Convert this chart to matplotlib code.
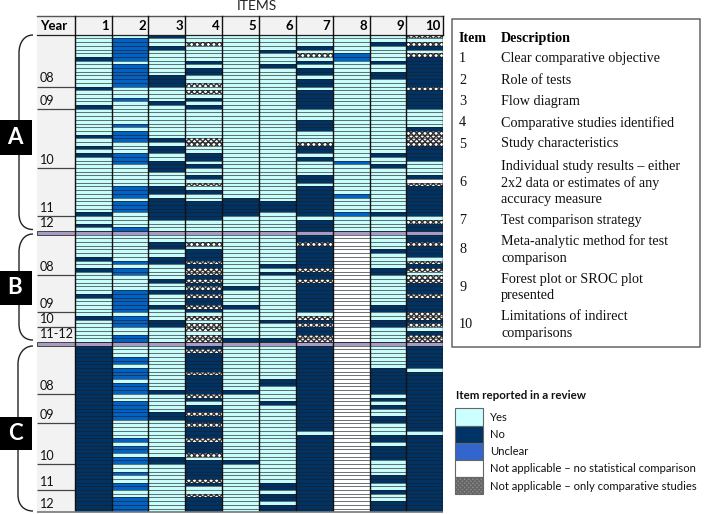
import matplotlib
matplotlib.use('Agg')
import matplotlib.pyplot as plt
from matplotlib.path import Path
from matplotlib.patches import PathPatch, Rectangle

W, H = 708, 514
plt.rcParams['font.family'] = ['Lato', 'DejaVu Sans']
plt.rcParams['hatch.linewidth'] = 1.0

items = ['1', '2', '3', '4', '5', '6', '7', '8', '9', '10']
descriptions = [
    ['Clear comparative objective'],
    ['Role of tests'],
    ['Flow diagram'],
    ['Comparative studies identified'],
    ['Study characteristics'],
    ['Individual study results \u2013 either', '2x2 data or estimates of any', 'accuracy measure'],
    ['Test comparison strategy'],
    ['Meta-analytic method for test', 'comparison'],
    ['Forest plot or SROC plot', 'presented'],
    ['Limitations of indirect', 'comparisons'],
]
legend_labels = ['Yes', 'No', 'Unclear', 'Not applicable \u2013 no statistical comparison',
                 'Not applicable \u2013 only comparative studies']

# rows per review group and where each year ends inside the group
section_names = ['A', 'B', 'C']
section_rows = [53, 29, 45]
year_labels = [['08', '09', '10', '11', '12'], ['08', '09', '10', '11-12'], ['08', '09', '10', '11', '12']]
year_ends = [[14, 20, 36, 49, 53], [11, 21, 25, 29], [13, 21, 32, 39, 45]]

# A: rows marked per item, everything else is "Yes"
a_base = ['Y', 'Y', 'Y', 'Y', 'Y', 'Y', 'Y', 'Y', 'Y', 'Y']
a_no = [
    [6, 14, 19, 27, 30, 32, 48, 51],
    [],
    [0, 3, 11, 12, 13, 18, 28, 30, 31, 34, 35, 36, 41, 42, 44, 45, 46, 47, 48, 49],
    [7, 9, 10, 17, 19, 32, 33, 35, 38, 42, 45, 46, 47, 48, 49],
    [44, 45, 46, 47, 48],
    [4, 8, 45, 46, 47],
    [3, 7, 9, 10, 12, 13, 15, 16, 17, 18, 19, 23, 24, 25, 30, 31, 33, 38, 39, 41, 42, 43, 44, 45, 46, 47, 48, 50, 51, 52],
    [],
    [2, 7, 10, 11, 32, 35, 48],
    [3, 6, 7, 8, 9, 10, 11, 12, 13, 15, 16, 17, 18, 19, 25, 30, 31, 32, 33, 38, 41, 42, 43, 44, 45, 46, 47, 48, 51, 52],
]
a_unclear = [
    [],
    [1, 2, 3, 4, 5, 6, 8, 9, 10, 11, 12, 13, 17, 24, 26, 27, 28, 32, 33, 34, 41, 42, 43, 45, 46, 47, 52],
    [], [], [], [], [],
    [5, 6, 34, 43, 48],
    [], [],
]
a_only = [[], [], [], [2, 13, 15, 28, 29, 40], [], [], [5, 29], [], [], [0, 2, 5, 14, 26, 27, 28, 29, 40, 50]]
a_yes = [[], [], [], [], [], [], [], [], [], []]
a_white = [[], [], [], [], [], [], [], [], [], [39]]

# B
b_base = ['Y', 'Y', 'Y', 'Y', 'Y', 'Y', 'Y', 'W', 'Y', 'Y']
b_no = [
    [6, 9, 16, 22],
    [],
    [2, 3, 6, 7, 12, 15, 19, 23, 24],
    [4, 5, 6, 8, 11, 13, 15, 17, 18, 20],
    [14, 19, 28],
    [8, 10, 23, 28],
    [0, 1, 3, 4, 5, 6, 7, 8, 10, 11, 13, 14, 15, 16, 17, 18, 19, 20, 23, 25, 26],
    [],
    [4, 9, 10, 19, 20, 23, 24],
    [0, 1, 3, 4, 5, 8, 13, 14, 15, 17, 18, 19, 20, 23, 26],
]
b_unclear = [[], [7, 9, 10, 15, 16, 17, 18, 19, 20, 22, 23, 24, 27, 28], [], [], [], [], [], [], [], []]
b_only = [
    [], [], [],
    [2, 7, 9, 10, 12, 14, 16, 19, 22, 24, 25, 27, 28],
    [], [],
    [2, 9, 12, 22, 24, 27, 28],
    [], [],
    [2, 7, 9, 11, 12, 16, 21, 22, 24, 27, 28],
]
b_yes = [[], [], [], [], [], [], [], [], [], []]
b_white = [[], [], [], [], [], [], [], [], [], []]

# C
c_base = ['N', 'Y', 'Y', 'Y', 'Y', 'Y', 'N', 'W', 'Y', 'N']
c_no = [
    [],
    [],
    [12, 18, 19, 30, 31],
    [0, 2, 3, 4, 5, 6, 8, 9, 10, 11, 12, 14, 16, 17, 19, 20, 22, 23, 24, 26, 27, 28, 31, 32, 33, 34, 35, 37, 41, 42, 43, 44],
    [12, 31],
    [9, 10, 15, 37, 38, 40, 41, 43, 44],
    [],
    [],
    [6, 7, 8, 9, 10, 11, 12, 14, 16, 19, 20, 24, 25, 27, 28, 29, 30, 35, 36, 39, 42, 43, 44],
    [],
]
c_unclear = [
    [],
    [3, 4, 6, 7, 8, 10, 11, 12, 15, 16, 17, 18, 19, 25, 27, 28, 30, 31, 34, 37, 38, 41, 42, 43, 44],
    [], [], [], [], [], [], [], [],
]
c_only = [[], [], [], [1, 7, 13, 18, 21, 25, 29, 36, 40], [], [], [], [], [], []]
c_yes = [[], [], [], [], [], [], [23], [], [], [6, 23]]
c_white = [[], [], [], [], [], [], [], [], [], []]

sections = [
    (a_base, a_no, a_unclear, a_only, a_yes, a_white),
    (b_base, b_no, b_unclear, b_only, b_yes, b_white),
    (c_base, c_no, c_unclear, c_only, c_yes, c_white),
]

colors = {'Y': '#c9fdfb', 'N': '#003264', 'U': '#0062c4', 'W': '#ffffff', 'X': '#ffffff'}
line_col = '#1a1f24'

fig = plt.figure(figsize=(W / 100, H / 100), dpi=100)

# grid axes, year column sits at negative x
left, right, top, bottom = 37.0, 443.3, 34.7, 512.3
ax = fig.add_axes([left / W, 1 - bottom / H, (right - left) / W, (bottom - top) / H])
col_w = (right - 74.7) / 10
ax.set_xlim(-(74.7 - left) / col_w, 10)
ax.set_ylim(129, 0)
ax.axis('off')
year_left = ax.get_xlim()[0]

# pixel overlay for furniture
ov = fig.add_axes([0, 0, 1, 1], zorder=5)
ov.set_xlim(0, W)
ov.set_ylim(H, 0)
ov.axis('off')

ax.barh(64.5, -year_left, left=year_left, height=129, color='#f2f2f2', linewidth=0)

offset = 0
for s, (base, no, unclear, only, yes, white) in enumerate(sections):
    n = section_rows[s]
    for c in range(10):
        status = [base[c]] * n
        for r in no[c]:
            status[r] = 'N'
        for r in unclear[c]:
            status[r] = 'U'
        for r in only[c]:
            status[r] = 'X'
        for r in yes[c]:
            status[r] = 'Y'
        for r in white[c]:
            status[r] = 'W'
        rows = [offset + r + 0.5 for r in range(n)]
        cols = [colors[st] for st in status]
        bars = ax.barh(rows, [1] * n, left=c, height=1, color=cols, linewidth=0)
        for b, st in zip(bars, status):
            if st == 'X':
                b.set_hatch('xxxxxx')
                b.set_edgecolor('#333333')
    for r in range(n + 1):
        ax.hlines(offset + r, 0, 10, color=line_col, linewidth=0.72, alpha=0.62)
    # year dividers and labels
    for lab, end in zip(year_labels[s], year_ends[s]):
        if end != n:
            ax.hlines(offset + end, year_left, 0, color='#444444', linewidth=0.9)
        ax.text(year_left + 0.07, offset + end - 0.6, lab, fontsize=9.1, va='bottom', ha='left', color='#111111')
    # purple separator row
    if s < 2:
        ax.barh(offset + n + 0.5, 10 - year_left, left=year_left, height=1, color='#a79ac4',
                edgecolor='#444444', linewidth=0.7)
    offset += n + 1

ax.vlines(range(0, 11), 0, 129, color='#111111', linewidth=1.0)
ax.hlines(129, year_left, 10, color='#777777', linewidth=1.2, clip_on=False)

# header row
ov.add_patch(Rectangle((37, 16), right - 37, 34.7 - 16, facecolor='#f2f2f2', edgecolor='none'))
ov.plot([37, right], [16, 16], color='#555555', lw=1.0)
ov.plot([37, right], [34.7, 34.7], color='#222222', lw=0.9)
for c in range(11):
    ov.plot([74.7 + c * col_w] * 2, [16, 34.7], color='#111111', lw=1.0)
ov.text(40, 26, 'Year', fontsize=9.5, fontweight='bold', va='center', ha='left')
for c, item in enumerate(items):
    ov.text(74.7 + (c + 1) * col_w - 2.5, 26, item, fontsize=9.5, fontweight='bold', va='center', ha='right')
ov.text(257, 5.5, 'ITEMS', fontsize=10, va='center', ha='center', color='#222222')

# group boxes and brackets
box_spans = [(120, 154.5), (271, 305), (416.5, 450)]
bracket_spans = [(35, 229.5, 19), (234, 340, 19), (346, 511, 18)]
for name, (y0, y1), (b0, b1, bx) in zip(section_names, box_spans, bracket_spans):
    ov.add_patch(Rectangle((0, y0), 31.5, y1 - y0, facecolor='black', edgecolor='none', zorder=4))
    ov.text(15, (y0 + y1) / 2, name, color='white', fontsize=16, fontweight='bold', va='center', ha='center', zorder=5)
    verts = [(33, b0), (24, b0), (bx, b0 + 8), (bx, b0 + 18), (bx, b1 - 16), (bx, b1 - 6), (24, b1), (33, b1)]
    codes = [Path.MOVETO, Path.CURVE4, Path.CURVE4, Path.CURVE4, Path.LINETO, Path.CURVE4, Path.CURVE4, Path.CURVE4]
    ov.add_patch(PathPatch(Path(verts, codes), facecolor='none', edgecolor='#222222', lw=1.0, zorder=3))

# description table
serif = ['Liberation Serif', 'DejaVu Serif']
ov.add_patch(Rectangle((451.7, 19), 248.3, 327.7, facecolor='white', edgecolor='#666666', lw=1.1))
ov.text(459, 38.5, 'Item', family=serif, fontsize=10.2, fontweight='bold', va='center')
ov.text(501, 38.5, 'Description', family=serif, fontsize=10.2, fontweight='bold', va='center')
item_y = [58.7, 80.3, 101.3, 122.7, 144, 183, 220.7, 249.7, 287.5, 325]
line_step = 16.8
for item, lines, y in zip(items, descriptions, item_y):
    ov.text(459, y, item, family=serif, fontsize=10.2, va='center', color='#111111')
    y0 = y - (len(lines) - 1) * line_step / 2
    for i, line in enumerate(lines):
        ov.text(501, y0 + i * line_step, line, family=serif, fontsize=10.2, va='center', color='#111111')

# legend
ov.text(456, 395.7, 'Item reported in a review', fontsize=8.3, fontweight='bold', va='center', color='#111111')
swatch_cols = ['#ccffff', '#003366', '#3366cc', '#ffffff', '#8c8c8c']
for i, (lab, col) in enumerate(zip(legend_labels, swatch_cols)):
    y = 408.3 + i * 17.2
    ov.add_patch(Rectangle((455, y), 27.5, 17.2, facecolor=col, edgecolor='#666666', lw=0.8,
                           hatch='xxxxxxxx' if i == 4 else None))
    ov.text(490, y + 9, lab, fontsize=8.15, va='center', color='#111111')

fig.savefig('out.png', dpi=100)
